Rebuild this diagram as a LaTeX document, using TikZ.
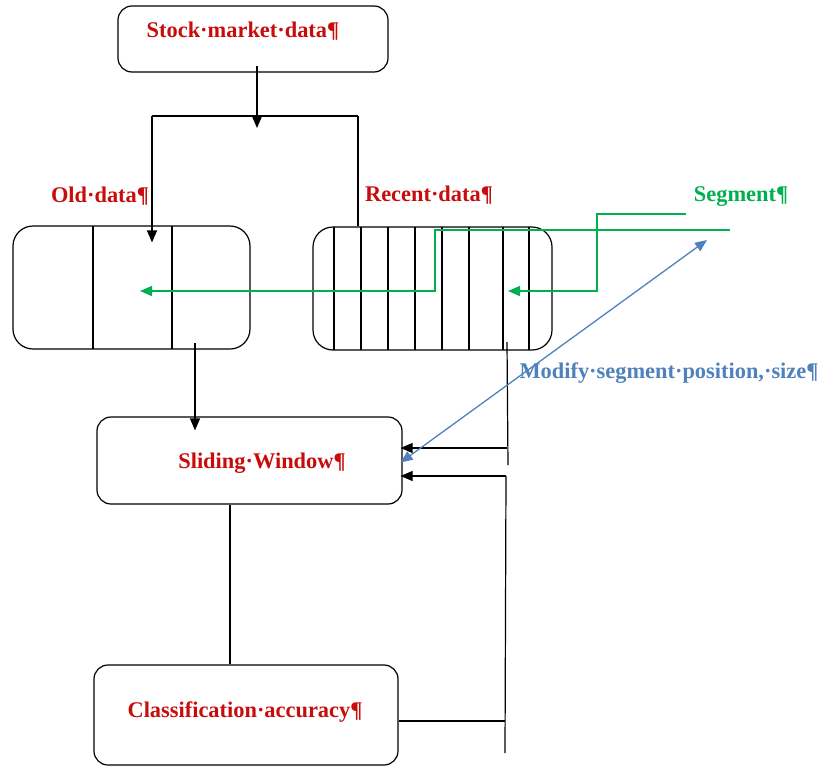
\documentclass[tikz,border=0pt]{standalone}
\usepackage{fontspec}
\setmainfont{Liberation Serif}
\usetikzlibrary{arrows.meta}
\definecolor{wordred}{RGB}{200,12,12}
\definecolor{wordgreen}{RGB}{0,176,80}
\definecolor{wordblue}{RGB}{79,129,189}
\tikzset{
  box/.style={draw, line width=1.2pt, rounded corners=14pt, inner sep=0pt},
  lbl/.style={font=\bfseries\fontsize{22.4}{26}\selectfont, inner sep=0pt},
  flow/.style={line width=1.2pt},
  seg/.style={wordgreen, line width=1.4pt},
}

\begin{document}
\begin{tikzpicture}[x=1pt, y=-1pt, >={Triangle[length=12pt,width=10pt]}]
        \useasboundingbox (0,0) rectangle (822,766);

        % Boxes
        \node[box, minimum width=270pt, minimum height=66pt] (stock) at (253,39) {};
        \node[box, rounded corners=20pt, minimum width=237pt, minimum height=123pt] (old) at (131.5,287.5) {};
        \node[box, rounded corners=20pt, minimum width=239pt, minimum height=123pt] (recent) at (432.5,288.5) {};
        \node[box, minimum width=305pt, minimum height=87pt] (slide) at (249.5,460.5) {};
        \node[box, minimum width=304pt, minimum height=100pt] (classif) at (246,715) {};

        % Cells of the data boxes
        \foreach \x in {93,172}
            \draw[flow] (\x,226) -- (\x,349);
        \foreach \x in {334,361,388,415,442,469,503,529}
            \draw[flow] (\x,227) -- (\x,350);

        % Texts
        \node[lbl, wordred] (stocktxt) at (243,31) {Stock·market·data¶};
        \node[lbl, wordred] (oldtxt) at (100,196) {Old·data¶};
        \node[lbl, wordred] (recenttxt) at (429,195) {Recent·data¶};
        \node[lbl, wordgreen] (segtxt) at (741,197) {Segment¶};
        \node[lbl, wordblue] (modtxt) at (669,373) {Modify·segment·position,·size¶};
        \node[lbl, wordred] (slidetxt) at (262,463) {Sliding·Window¶};
        \node[lbl, wordred] (classiftxt) at (245,712) {Classification·accuracy¶};

        % Split of the data
        \coordinate (splitL) at (152,116);
        \coordinate (splitR) at (358,116);
        \coordinate (splitM) at (257,128);
        \draw[flow, ->] ([yshift=7pt]stock.south -| splitM) -- (splitM);
        \draw[flow] (splitL) -- (splitR);
        \draw[flow, ->] (splitL) -- ([yshift=-17pt]old.north -| splitL);
        \draw[flow] (splitR) -- (recent.north -| splitR);

        % Old data to sliding window to accuracy
        \coordinate (oldout) at (195,343);
        \draw[flow, ->] (oldout) -- ([yshift=-14pt]slide.north -| oldout);
        \draw[flow] ([xshift=-19.5pt]slide.south) -- ([xshift=-16pt]classif.north);

        % Feedback lines
        \coordinate (fbA) at (507,342);
        \coordinate (fbAend) at (508,465);
        \coordinate (fbAin) at (507,448);
        \draw[flow] (fbA) -- (fbAend);
        \draw[flow, ->] (fbAin) -- ([xshift=-2pt]slide.east |- fbAin);
        \coordinate (fbB) at (506,476);
        \coordinate (fbBend) at (505,753);
        \coordinate (fbBacc) at (505,721);
        \draw[flow] (fbB) -- (fbBend);
        \draw[flow, ->] (fbB) -- ([xshift=-2pt]slide.east |- fbB);
        \draw[flow] (classif.east |- fbBacc) -- (fbBacc);

        % Segment arrows
        \coordinate (segA) at (730,230);
        \coordinate (segB) at (686,214);
        \coordinate (oldin) at (140,291);
        \coordinate (recentin) at (508,291);
        \draw[seg, ->] (segA) -| (435,291) -- (oldin);
        \draw[seg, ->] (segB) -| (597,291) -- (recentin);

        % Modify segment
        \coordinate (modA) at (707,240);
        \draw[wordblue, line width=1.3pt, <->] (modA) -- ([xshift=-2pt,yshift=-2pt]slide.east);
    \end{tikzpicture}
\end{document}
